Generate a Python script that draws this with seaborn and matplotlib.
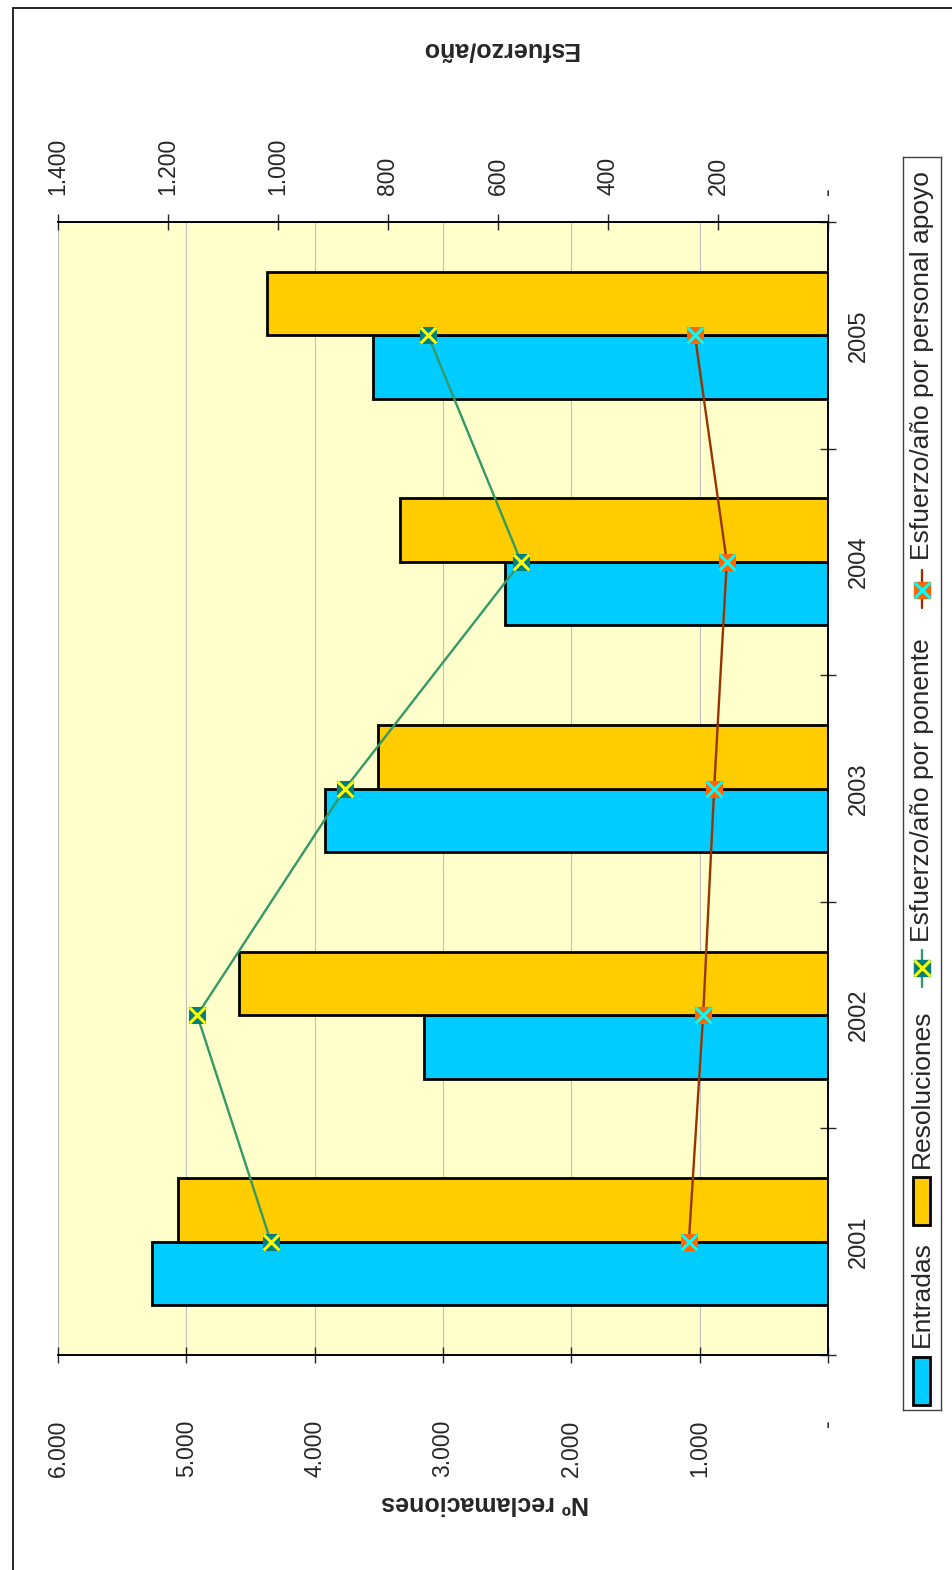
import numpy as np
import pandas as pd
import matplotlib
matplotlib.use("Agg")
import matplotlib.pyplot as plt
from matplotlib.patches import Rectangle
from matplotlib.lines import Line2D
import seaborn as sns

years = ["2001", "2002", "2003", "2004", "2005"]
entradas = [5270, 3150, 3920, 2520, 3545]
resoluciones = [5065, 4590, 3505, 3335, 4370]
esfuerzo_ponente = [1013, 1147, 878, 558, 727]
esfuerzo_apoyo = [253, 227, 207, 184, 242]

ticks_rec = [0, 1000, 2000, 3000, 4000, 5000, 6000]
labels_rec = ["-", "1.000", "2.000", "3.000", "4.000", "5.000", "6.000"]
ticks_esf = [0, 200, 400, 600, 800, 1000, 1200, 1400]
labels_esf = ["-", "200", "400", "600", "800", "1.000", "1.200", "1.400"]

c_ent = "#00CCFF"
c_res = "#FFCC00"
c_pon = "#339966"
c_apo = "#993300"

sns.set_style("white")
plt.rcParams["font.family"] = ["Liberation Sans", "DejaVu Sans"]

W, H = 953, 1570
fig = plt.figure(figsize=(W / 100, H / 100), dpi=100)
ax = fig.add_axes([58 / W, 1 - 1355 / H, (828 - 58) / W, (1355 - 222) / H])
ax.set_facecolor("#FFFFCC")

df = pd.DataFrame({
    "year": years * 2,
    "serie": ["Entradas"] * len(years) + ["Resoluciones"] * len(years),
    "valor": entradas + resoluciones,
})
sns.barplot(data=df, x="valor", y="year", hue="serie", orient="h",
            palette=[c_ent, c_res], width=0.56, saturation=1,
            edgecolor="black", linewidth=2, legend=False, ax=ax)

ypos = np.arange(len(years))
ax.set_ylim(-0.5, len(years) - 0.5)
ax.set_xlim(6000, 0)
ax.set_xticks(ticks_rec)
ax.set_xticklabels(labels_rec, rotation=90)
ax.tick_params(axis="x", direction="inout", length=11, width=1, pad=41, labelsize=16.5)
ax.xaxis.grid(True, color="#C0C0C0", lw=0.8)
ax.set_axisbelow(True)

# category axis on the right side
ax.yaxis.tick_right()
ax.set_yticks(np.arange(-0.5, len(years), 1))
ax.set_yticklabels([""] * (len(years) + 1))
ax.set_yticks(ypos, labels=years, minor=True, rotation=90, va="center")
ax.tick_params(axis="y", which="major", direction="inout", length=11, width=1)
ax.tick_params(axis="y", which="minor", length=0, pad=14, labelsize=17)
ax.set_xlabel("")
ax.set_ylabel("")

# secondary axis (esfuerzo)
ax2 = ax.twiny()
sns.lineplot(x=esfuerzo_ponente, y=ypos, orient="y", sort=False, estimator=None,
             color=c_pon, lw=1.7, marker="s", markersize=11,
             markerfacecolor="#008080", markeredgecolor="#008080", ax=ax2)
sns.scatterplot(x=esfuerzo_ponente, y=ypos, marker="x", s=130, color="#FFFF00",
                linewidth=2.2, zorder=5, ax=ax2)
sns.lineplot(x=esfuerzo_apoyo, y=ypos, orient="y", sort=False, estimator=None,
             color=c_apo, lw=1.7, marker="s", markersize=11,
             markerfacecolor="#FF6600", markeredgecolor="#FF6600", ax=ax2)
sns.scatterplot(x=esfuerzo_apoyo, y=ypos, marker="x", s=130, color="#00FFFF",
                linewidth=2.2, zorder=5, ax=ax2)
ax2.set_xlim(1400, 0)
ax2.set_ylim(-0.5, len(years) - 0.5)
ax2.set_xticks(ticks_esf)
ax2.set_xticklabels(labels_esf, rotation=90)
ax2.tick_params(axis="x", direction="inout", length=11, width=1, pad=14, labelsize=16.5)
ax2.set_xlabel("")
ax2.set_ylabel("")

for a in (ax, ax2):
    a.spines["left"].set_visible(False)
    for s in ("top", "bottom", "right"):
        a.spines[s].set_color("black")
        a.spines[s].set_linewidth(1.2)

fig.text(485 / W, 1 - 1503 / H, "Nº reclamaciones", rotation=180,
         ha="center", va="center", fontsize=18, fontweight="bold")
fig.text(500 / W, 1 - 50 / H, "Esfuerzo/año", rotation=180,
         ha="center", va="center", fontsize=18, fontweight="bold")

# outer chart border (left and top visible)
fig.add_artist(Line2D([13 / W, 13 / W], [0, 1 - 8 / H], transform=fig.transFigure,
                      color="black", lw=1.2))
fig.add_artist(Line2D([13 / W, 1], [1 - 8 / H, 1 - 8 / H], transform=fig.transFigure,
                      color="black", lw=1.2))

# rotated legend drawn by hand
lax = fig.add_axes([903 / W, 1 - 1410 / H, 38 / W, (1410 - 157) / H])
lax.set_xlim(903, 941)
lax.set_ylim(1410, 157)
lax.set_xticks([])
lax.set_yticks([])
lax.set_facecolor("white")
for s in lax.spines.values():
    s.set_color("#404040")
    s.set_linewidth(1)

lfs = 19
lax.add_patch(Rectangle((913, 1357), 17, 48, fc=c_ent, ec="black", lw=2))
lax.text(922, 1347, "Entradas", rotation=90, ha="center", va="bottom", fontsize=lfs)
lax.add_patch(Rectangle((913, 1177), 17, 48, fc=c_res, ec="black", lw=2))
lax.text(922, 1168, "Resoluciones", rotation=90, ha="center", va="bottom", fontsize=lfs)

lax.plot([922, 922], [950, 987], color=c_pon, lw=1.7)
lax.plot([922], [968], marker="s", ms=11, mfc="#008080", mec="#008080")
lax.plot([922], [968], marker="x", ms=11, mew=2.2, color="#FFFF00")
lax.text(922, 942, "Esfuerzo/año por ponente", rotation=90, ha="center", va="bottom", fontsize=lfs)

lax.plot([922, 922], [570, 608], color=c_apo, lw=1.7)
lax.plot([922], [590], marker="s", ms=11, mfc="#FF6600", mec="#FF6600")
lax.plot([922], [590], marker="x", ms=11, mew=2.2, color="#00FFFF")
lax.text(922, 560, "Esfuerzo/año por personal apoyo", rotation=90, ha="center", va="bottom", fontsize=lfs)

fig.savefig("out.png", dpi=100)
